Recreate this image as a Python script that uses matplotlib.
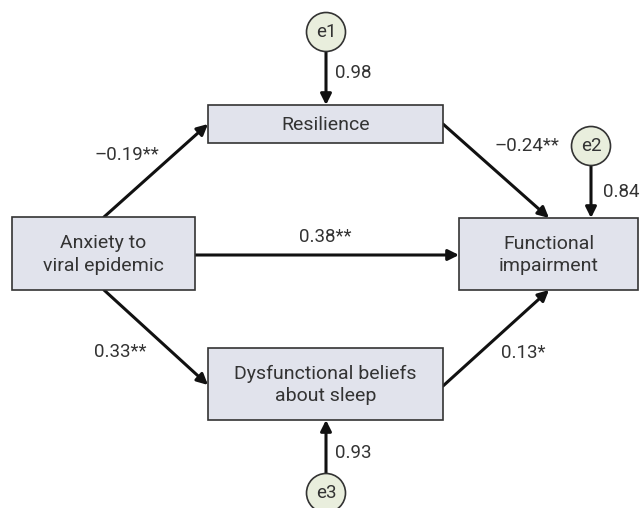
import matplotlib
matplotlib.use("Agg")
import matplotlib.pyplot as plt
from matplotlib.patches import Rectangle, Circle

plt.rcParams["font.family"] = ["Liberation Sans Narrow", "Roboto", "DejaVu Sans"]

# Knoten und Pfadkoeffizienten
node_names = ["Anxiety to\nviral epidemic", "Resilience", "Functional\nimpairment",
              "Dysfunctional beliefs\nabout sleep"]
error_names = ["e1", "e2", "e3"]
error_values = ["0.98", "0.84", "0.93"]
path_labels = ["\u20130.19**", "\u20130.24**", "0.38**", "0.33**", "0.13*"]

# Layout in Pixeln (x0, y0, x1, y1)
boxes = [(12, 217, 195, 290), (208, 105, 443, 143), (459, 218, 638, 290), (208, 348, 443, 420)]
circles = [(326, 32), (591, 146), (326, 493)]
err_arrows = [((326, 51), (326, 105)), ((591, 166), (591, 218)), ((326, 474), (326, 420))]
err_text = [(335, 73), (603, 192), (335, 453)]
paths = [((104, 217), (208, 124)), ((443, 124), (549, 218)), ((195, 255), (459, 255)),
         ((104, 290), (208, 385)), ((443, 386), (549, 290))]
path_text = [(127, 155), (527, 146), (325, 237), (120, 352), (523, 353)]

fig = plt.figure(figsize=(6.41, 5.08), dpi=100)
ax = fig.add_axes([0, 0, 1, 1])
ax.set_xlim(0, 641)
ax.set_ylim(508, 0)
ax.axis("off")

txt = "#333333"
for (x0, y0, x1, y1), name in zip(boxes, node_names):
    ax.add_patch(Rectangle((x0, y0), x1 - x0, y1 - y0, facecolor="#e1e3ec",
                           edgecolor="#333333", lw=1.2, zorder=2))
    ax.text((x0 + x1) / 2, (y0 + y1) / 2 + 1, name, ha="center", va="center",
            fontsize=14, color=txt, linespacing=1.35, zorder=3)

arrow = dict(arrowstyle="-|>", lw=2.2, color="#111111", shrinkA=0, shrinkB=0,
             mutation_scale=16)
for (start, end) in paths:
    ax.annotate("", xy=end, xytext=start, arrowprops=arrow, zorder=1)
for (tx, ty), lab in zip(path_text, path_labels):
    ax.text(tx, ty, lab, ha="center", va="center", fontsize=13.5, color=txt)

for (cx, cy), name in zip(circles, error_names):
    ax.add_patch(Circle((cx, cy), 19.5, facecolor="#e9eedd", edgecolor="#333333",
                        lw=1.2, zorder=2))
    ax.text(cx, cy, name, ha="center", va="center", fontsize=13.5, color=txt, zorder=3)
for (start, end) in err_arrows:
    ax.annotate("", xy=end, xytext=start, arrowprops=arrow, zorder=1)
for (tx, ty), lab in zip(err_text, error_values):
    ax.text(tx, ty, lab, ha="left", va="center", fontsize=13.5, color=txt)

fig.savefig("out.png", dpi=100)
